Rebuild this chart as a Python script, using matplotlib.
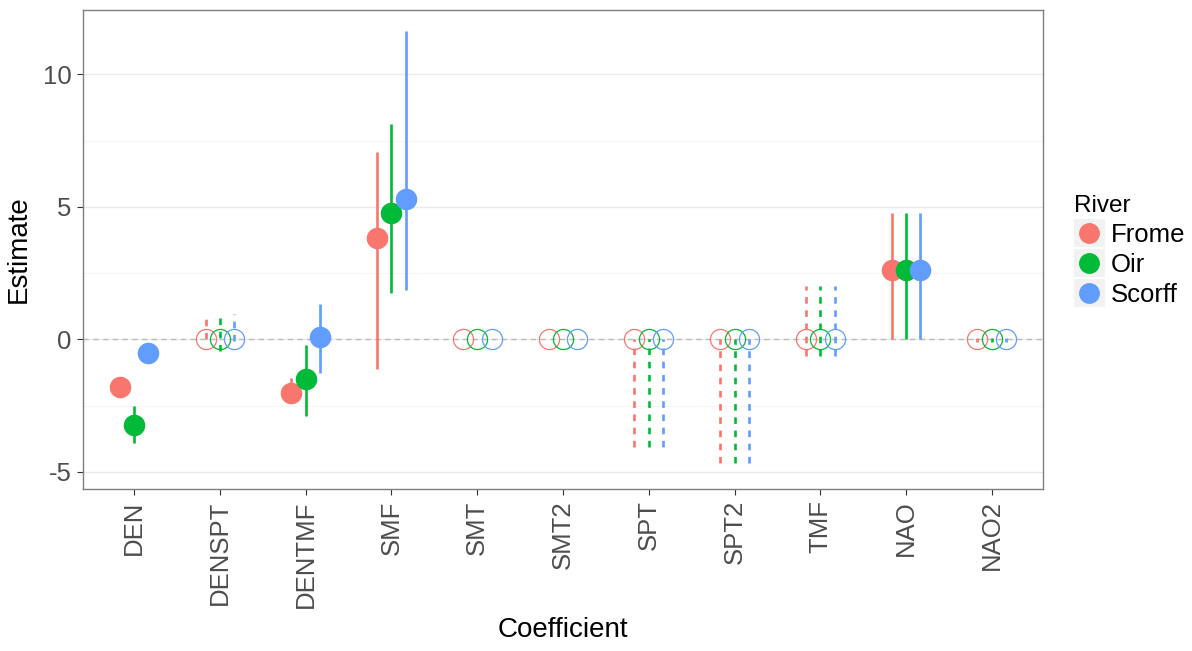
import numpy as np
import matplotlib
matplotlib.use("Agg")
import matplotlib.pyplot as plt
from matplotlib.lines import Line2D
from matplotlib.patches import Rectangle
from matplotlib.legend_handler import HandlerBase

plt.rcParams["font.family"] = ["Liberation Sans", "DejaVu Sans"]
plt.rcParams["axes.unicode_minus"] = False

coefficients = ["DEN", "DENSPT", "DENTMF", "SMF", "SMT", "SMT2",
                "SPT", "SPT2", "TMF", "NAO", "NAO2"]
rivers = ["Frome", "Oir", "Scorff"]
colors = ["#F8766D", "#00BA38", "#619CFF"]

# filled point + solid bar when significant, open circle + dashed bar otherwise
significant = [True, False, True, True, False, False, False, False, False, True, False]

frome_est = [-1.80, 0, -2.01, 3.83, 0, 0, 0, 0, 0, 2.61, 0]
frome_lo = [-1.95, 0.0, -2.30, -1.13, 0, 0, -4.05, -4.65, -0.62, 0.0, -0.10]
frome_hi = [-1.65, 1.0, -1.45, 7.07, 0, 0, 0, 0, 2.0, 4.75, 0.05]

oir_est = [-3.23, 0, -1.50, 4.75, 0, 0, 0, 0, 0, 2.61, 0]
oir_lo = [-3.90, -0.44, -2.89, 1.76, 0, 0, -4.05, -4.65, -0.62, 0.0, -0.10]
oir_hi = [-2.50, 0.94, -0.23, 8.14, 0, 0, 0, 0, 2.0, 4.75, 0.05]

scorff_est = [-0.53, 0, 0.10, 5.30, 0, 0, 0, 0, 0, 2.61, 0]
scorff_lo = [-0.70, -0.06, -1.28, 1.88, 0, 0, -4.05, -4.65, -0.62, 0.0, -0.10]
scorff_hi = [-0.40, 0.94, 1.32, 11.65, 0, 0, 0, 0, 2.0, 4.75, 0.05]

estimates = [frome_est, oir_est, scorff_est]
lows = [frome_lo, oir_lo, scorff_lo]
highs = [frome_hi, oir_hi, scorff_hi]

fig = plt.figure(figsize=(11.92, 6.51), dpi=100)
ax = fig.add_axes([0.0694, 0.2488, 0.8058, 0.7358])

x = np.arange(1, len(coefficients) + 1)
offsets = [-1 / 6, 0, 1 / 6]

ax.axhline(0, color="#BBBBBB", lw=1.0, ls=(0, (4, 3)), zorder=1)

for j in range(3):
    xs = x + offsets[j]
    for i in range(len(coefficients)):
        ls = "-" if significant[i] else (0, (2.5, 2.5))
        ax.plot([xs[i], xs[i]], [lows[j][i], highs[j][i]], color=colors[j],
                lw=1.9, ls=ls, solid_capstyle="butt", zorder=2)
    for i in range(len(coefficients)):
        if significant[i]:
            ax.plot(xs[i], estimates[j][i], "o", ms=14.5, color=colors[j],
                    mec=colors[j], zorder=3)
        else:
            ax.plot(xs[i], estimates[j][i], "o", ms=14.5, mfc="none",
                    mec=colors[j], mew=0.9, zorder=3)

ax.set_xlim(0.4, len(coefficients) + 0.6)
ax.set_ylim(-5.65, 12.43)
ax.set_xticks(x)
ax.set_xticklabels(coefficients, rotation=90)
ax.set_yticks([-5, 0, 5, 10])
ax.set_yticks([-2.5, 2.5, 7.5], minor=True)
ax.tick_params(axis="both", which="major", labelsize=18.5, labelcolor="#4D4D4D",
               color="#333333", length=4, width=0.8, pad=4)
ax.tick_params(axis="y", which="minor", length=0)
ax.grid(axis="y", which="major", color="#EBEBEB", lw=1.0)
ax.grid(axis="y", which="minor", color="#F4F4F4", lw=0.6)
ax.set_axisbelow(True)
for s in ax.spines.values():
    s.set_color("#7F7F7F")
    s.set_linewidth(1.0)

ax.set_xlabel("Coefficient", fontsize=20, labelpad=7)
ax.set_ylabel("Estimate", fontsize=20, labelpad=8)


class KeyHandler(HandlerBase):
    def create_artists(self, legend, orig_handle, xdescent, ydescent,
                       width, height, fontsize, trans):
        bg = Rectangle((-xdescent, -ydescent), width, height,
                       facecolor="#F2F2F2", edgecolor="none", transform=trans)
        dot = Line2D([width / 2 - xdescent], [height / 2 - ydescent], marker="o",
                     ms=14, color=orig_handle.get_color(), ls="none",
                     transform=trans)
        return [bg, dot]


handles = [Line2D([], [], color=c) for c in colors]
leg = fig.legend(handles, rivers, title="River", loc="center left",
                 bbox_to_anchor=(0.901, 0.614), frameon=False, fontsize=18.5,
                 title_fontsize=17.5, handler_map={Line2D: KeyHandler()},
                 handlelength=1.2, handleheight=1.3, labelspacing=0.08,
                 handletextpad=0.25, borderaxespad=0, borderpad=0)
leg._legend_box.align = "left"

fig.savefig("out.png", dpi=100)
